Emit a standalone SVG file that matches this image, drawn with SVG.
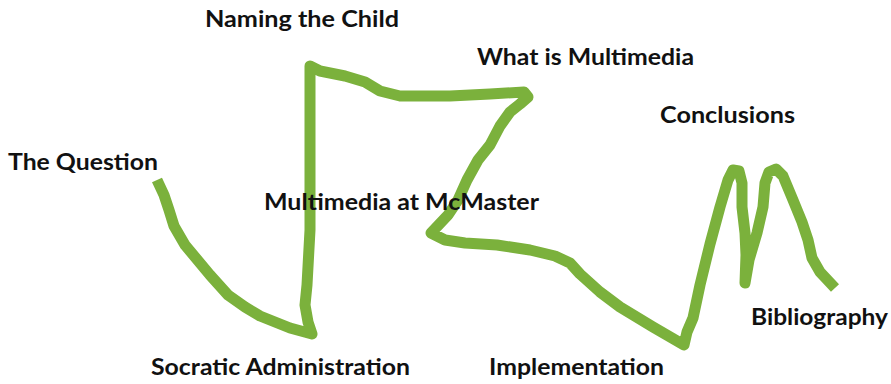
<svg xmlns="http://www.w3.org/2000/svg" width="891" height="384" viewBox="0 0 891 384">
<style>
.route{fill:none;stroke:#7BB13C;stroke-width:11;stroke-linecap:butt;stroke-linejoin:round}
.lbl{font-family:Lato,"Open Sans","Liberation Sans",sans-serif;font-weight:bold;font-size:22px;fill:#111}
</style>
<rect width="891" height="384" fill="#fff"/>
<g id="connectors">
<path class="route" d="M157,180 L164,195 L169,210 L174,226 L185,245 L210,275 L228,295 L245,307 L260,316 L290,328 L312,334 L308,322 L305,305 L307,285 L310,230 L310,170 L310,100 L310,66 L320,71 L345,76 L365,82 L380,91 L400,96 L450,96 L490,94 L524,92 L528,97 L520,104 L510,112 L500,126 L490,145 L478,160 L467,180 L458,200 L448,215 L431,233 L445,240 L465,243 L497,245 L530,250 L555,256 L570,263 L580,274 L600,292 L620,307 L653,327 L684,345 L687,332 L693,318 L700,285 L710,244 L720,207 L728,180 L733,170 L739,171 L742,183 L742,207 L745,233 L746,255 L745,283 L749,260 L757,233 L763,207 L765,183 L769,172 L776,169 L783,176 L793,200 L802,222 L808,240 L812,258 L820,272 L835,288"/>
</g>
<g id="node-naming"><text class="lbl" x="205" y="27" textLength="194" lengthAdjust="spacingAndGlyphs">Naming the Child</text></g>
<g id="node-what"><text class="lbl" x="477" y="65" textLength="217" lengthAdjust="spacingAndGlyphs">What is Multimedia</text></g>
<g id="node-conclusions"><text class="lbl" x="660" y="123" textLength="135" lengthAdjust="spacingAndGlyphs">Conclusions</text></g>
<g id="node-question"><text class="lbl" x="8" y="170" textLength="150" lengthAdjust="spacingAndGlyphs">The Question</text></g>
<g id="node-mcmaster"><text class="lbl" x="264" y="210" textLength="275" lengthAdjust="spacingAndGlyphs">Multimedia at McMaster</text></g>
<g id="node-socratic"><text class="lbl" x="151" y="375" textLength="259" lengthAdjust="spacingAndGlyphs">Socratic Administration</text></g>
<g id="node-implementation"><text class="lbl" x="489" y="375" textLength="175" lengthAdjust="spacingAndGlyphs">Implementation</text></g>
<g id="node-bibliography"><text class="lbl" x="751" y="325" textLength="137" lengthAdjust="spacingAndGlyphs">Bibliography</text></g>
</svg>
